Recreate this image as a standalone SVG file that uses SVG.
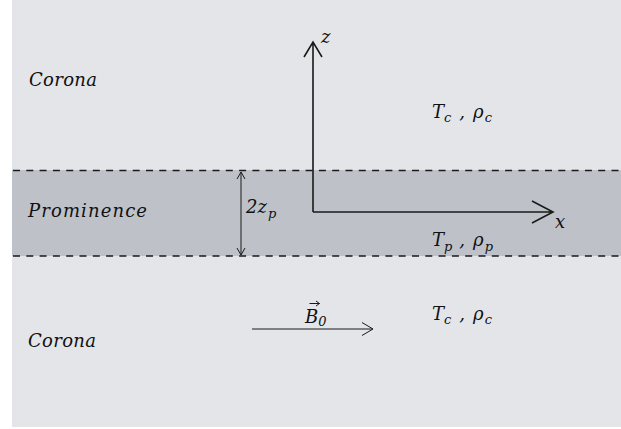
<svg xmlns="http://www.w3.org/2000/svg" width="621" height="429" viewBox="0 0 621 429">
<style>
.t{font-family:"DejaVu Serif","Liberation Serif",serif;font-style:italic;font-size:18px;fill:#111}
.s{font-size:13px}
.ax{stroke:#1a1a1a;stroke-width:1.6;fill:none}
.dash{stroke:#1a1a1a;stroke-width:1.6;stroke-dasharray:7 6.3}
.thin{stroke:#1a1a1a;stroke-width:1;fill:none}
</style>
<rect x="0" y="0" width="621" height="429" fill="#ffffff"/>
<g id="corona-top"><rect x="12" y="0" width="609" height="170" fill="#e4e5e9"/></g>
<g id="prominence-band"><rect x="12" y="170" width="609" height="86" fill="#bec2c8"/></g>
<g id="corona-bottom"><rect x="12" y="256" width="609" height="171" fill="#e4e5e9"/></g>
<g id="connectors">
<line class="dash" x1="13" y1="170.5" x2="621" y2="170.5"/>
<line class="dash" x1="13" y1="256" x2="621" y2="256"/>
<path class="ax" d="M313 212V43M304 57L313 42L322 57"/>
<path class="ax" d="M313 212H553M532 201L553 212L532 223"/>
<path class="thin" d="M241 172V255M237 179L241 172L245 179M237 248L241 255L245 248"/>
<path class="thin" d="M252 329H373M362 322.5L373 329L362 335.5"/>
<path class="thin" d="M309.5 303.5H319.5M316 301L319.5 303.5L316 306"/>
</g>
<g id="labels">
<text class="t" x="29" y="86" textLength="68" lengthAdjust="spacing">Corona</text>
<text class="t" x="28" y="217" textLength="119" lengthAdjust="spacing">Prominence</text>
<text class="t" x="28" y="347" textLength="68" lengthAdjust="spacing">Corona</text>
<text class="t" x="321" y="43" font-size="15">z</text>
<text class="t" x="555" y="228" font-size="16">x</text>
<text class="t" x="246" y="213">2z<tspan class="s" dx="1" dy="5">p</tspan></text>
<text class="t" x="432" y="118">T<tspan class="s" dx="0" dy="4">c</tspan><tspan dx="8" dy="-4">,</tspan><tspan dx="8">ρ</tspan><tspan class="s" dx="1" dy="4">c</tspan></text>
<text class="t" x="432" y="246">T<tspan class="s" dx="0" dy="5">p</tspan><tspan dx="7" dy="-5">,</tspan><tspan dx="8">ρ</tspan><tspan class="s" dx="1" dy="5">p</tspan></text>
<text class="t" x="432" y="320">T<tspan class="s" dx="0" dy="4">c</tspan><tspan dx="8" dy="-4">,</tspan><tspan dx="8">ρ</tspan><tspan class="s" dx="1" dy="4">c</tspan></text>
<text class="t" x="305" y="323">B<tspan class="s" dx="0" dy="3">0</tspan></text>
</g>
</svg>
